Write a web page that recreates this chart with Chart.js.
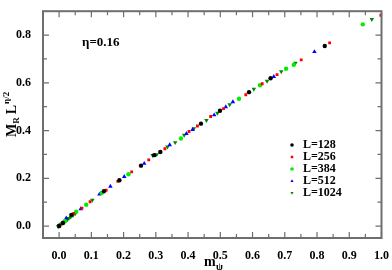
<!DOCTYPE html>
<html><head><meta charset="utf-8">
<script src="https://cdn.jsdelivr.net/npm/chart.js@4/dist/chart.umd.min.js"></script>
<style>html,body{margin:0;padding:0;background:#fff}#wrap{width:392px;height:270px}</style>
</head><body><div id="wrap"><canvas id="c" width="392" height="270"></canvas></div>
<script>
const seriesLabels = ["L=128","L=256","L=384","L=512","L=1024"];
const L128_x = [0.0,0.012,0.038,0.139,0.187,0.254,0.295,0.314,0.44,0.499,0.589,0.656,0.824];
const L128_y = [0.0,0.013,0.047,0.146,0.192,0.253,0.297,0.31,0.429,0.483,0.561,0.619,0.754];
const L256_x = [0.0,0.008,0.045,0.071,0.096,0.146,0.182,0.225,0.278,0.328,0.403,0.429,0.47,0.51,0.579,0.63,0.676,0.751,0.839,0.998];
const L256_y = [0.0,0.009,0.053,0.075,0.102,0.15,0.187,0.227,0.277,0.324,0.396,0.419,0.459,0.492,0.55,0.596,0.634,0.696,0.767,0.883];
const L384_x = [0.0,0.018,0.053,0.084,0.132,0.215,0.378,0.558,0.623,0.704,0.728,0.942];
const L384_y = [0.0,0.02,0.06,0.089,0.139,0.217,0.367,0.533,0.59,0.659,0.676,0.845];
const L512_x = [0.0,0.022,0.067,0.125,0.159,0.202,0.264,0.343,0.395,0.414,0.481,0.517,0.539,0.666,0.792];
const L512_y = [0.0,0.033,0.072,0.133,0.166,0.207,0.262,0.34,0.387,0.404,0.465,0.499,0.52,0.626,0.73];
const L1024_x = [-0.003,0.0,0.004,0.008,0.012,0.016,0.02,0.025,0.03,0.036,0.043,0.05,0.103,0.29,0.303,0.336,0.36,0.388,0.418,0.457,0.491,0.529,0.604,0.645,0.689,0.733,0.970];
const L1024_y = [-0.002,0.002,0.006,0.01,0.014,0.018,0.022,0.027,0.032,0.038,0.045,0.052,0.109,0.296,0.30,0.332,0.35,0.381,0.408,0.443,0.473,0.509,0.574,0.607,0.647,0.683,0.866];
const xTicks = [0.0,0.1,0.2,0.3,0.4,0.5,0.6,0.7,0.8,0.9,1.0];
const yTicks = [0.0,0.2,0.4,0.6,0.8];

const pts = (xs, ys) => xs.map((x, i) => ({x: x, y: ys[i]}));
const FONT = "'Liberation Serif', 'DejaVu Serif', serif";

const styles = [
  {color:'#000000', shape:'circle', rot:0},
  {color:'#ff0000', shape:'rect', rot:0},
  {color:'#00ee00', shape:'circle', rot:0},
  {color:'#0000ff', shape:'triangle', rot:0},
  {color:'#008800', shape:'triangle', rot:180}
];
const allX = [L128_x, L256_x, L384_x, L512_x, L1024_x];
const allY = [L128_y, L256_y, L384_y, L512_y, L1024_y];
const datasets = seriesLabels.map((lab, i) => ({
  label: lab,
  data: pts(allX[i], allY[i]),
  backgroundColor: styles[i].color,
  borderColor: styles[i].color,
  pointStyle: styles[i].shape,
  rotation: styles[i].rot,
  pointRadius: styles[i].shape === 'rect' ? 2.0 : (styles[i].shape === 'triangle' ? 2.6 : 2.2),
  pointBorderWidth: 0,
  showLine: false
}));

const deco = {
  id: 'deco',
  afterDraw(chart) {
    const ctx = chart.ctx;
    const a = chart.chartArea;
    const xs = chart.scales.x, ys = chart.scales.y;
    ctx.save();
    ctx.strokeStyle = '#6e6e6e';
    ctx.lineWidth = 2;
    ctx.strokeRect(a.left, a.top, a.right - a.left, a.bottom - a.top);
    ctx.lineWidth = 1.2;
    ctx.beginPath();
    for (let k = 0; k <= 20; k++) {
      const v = k * 0.05;
      const p = xs.getPixelForValue(v);
      const len = (k % 2 === 0) ? 6 : 4;
      ctx.moveTo(p, a.bottom); ctx.lineTo(p, a.bottom - len);
      ctx.moveTo(p, a.top); ctx.lineTo(p, a.top + len);
    }
    for (let k = 0; k <= 8; k++) {
      const v = k * 0.1;
      const p = ys.getPixelForValue(v);
      const len = (k % 2 === 0) ? 6 : 4;
      ctx.moveTo(a.left, p); ctx.lineTo(a.left + len, p);
      ctx.moveTo(a.right, p); ctx.lineTo(a.right - len, p);
    }
    ctx.stroke();

    ctx.fillStyle = '#000';
    ctx.font = "bold 13px " + FONT;
    ctx.textBaseline = 'middle';
    ctx.textAlign = 'left';
    ctx.fillText('η=0.16', 82, 43);

    ctx.textBaseline = 'alphabetic';
    ctx.font = "bold 14px " + FONT;
    ctx.fillText('m', 204, 266);
    ctx.font = "bold 10px " + FONT;
    ctx.fillText('ψ', 216, 270);

    ctx.save();
    ctx.translate(16, 137);
    ctx.rotate(-Math.PI / 2);
    ctx.font = "bold 14px " + FONT;
    let x = 0;
    ctx.fillText('M', x, 0); x += ctx.measureText('M').width;
    ctx.font = "bold 9px " + FONT;
    ctx.fillText('R', x, 3); x += ctx.measureText('R').width + 3;
    ctx.font = "bold 14px " + FONT;
    ctx.fillText('L', x, 0); x += ctx.measureText('L').width + 1;
    ctx.font = "bold 9px " + FONT;
    ctx.fillText('η/2', x, -7);
    ctx.restore();

    ctx.font = "bold 12px " + FONT;
    ctx.textBaseline = 'middle';
    chart.data.datasets.forEach((ds, i) => {
      const yy = 145 + i * 12;
      ctx.save();
      ctx.fillStyle = ds.backgroundColor;
      ctx.strokeStyle = ds.backgroundColor;
      Chart.helpers.drawPoint(ctx, {pointStyle: ds.pointStyle, rotation: ds.rotation, radius: 1.8, borderWidth: 0}, 292, yy);
      ctx.restore();
      ctx.fillStyle = '#000';
      ctx.fillText(ds.label, 303, yy);
    });
    ctx.restore();
  }
};

new Chart(document.getElementById('c'), {
  type: 'scatter',
  data: { datasets: datasets },
  options: {
    responsive: false,
    animation: false,
    layout: { padding: { top: 1, right: 9, left: 0, bottom: 0 } },
    plugins: { legend: { display: false }, tooltip: { enabled: false } },
    scales: {
      x: {
        type: 'linear', min: -0.05, max: 1.0,
        grid: { display: false }, border: { display: false },
        afterBuildTicks: s => { s.ticks = xTicks.map(v => ({value: v})); },
        afterFit: s => { s.height = 32; },
        ticks: { color: '#000', font: { family: FONT, size: 12, weight: 'bold' }, padding: 3,
          callback: v => v.toFixed(1), maxRotation: 0, autoSkip: false }
      },
      y: {
        type: 'linear', min: -0.05, max: 0.9,
        grid: { display: false }, border: { display: false },
        afterBuildTicks: s => { s.ticks = yTicks.map(v => ({value: v})); },
        afterFit: s => { s.width = 43; },
        ticks: { color: '#000', font: { family: FONT, size: 12, weight: 'bold' }, padding: 4,
          callback: v => v.toFixed(1), autoSkip: false }
      }
    }
  },
  plugins: [deco]
});
</script>
</body></html>
